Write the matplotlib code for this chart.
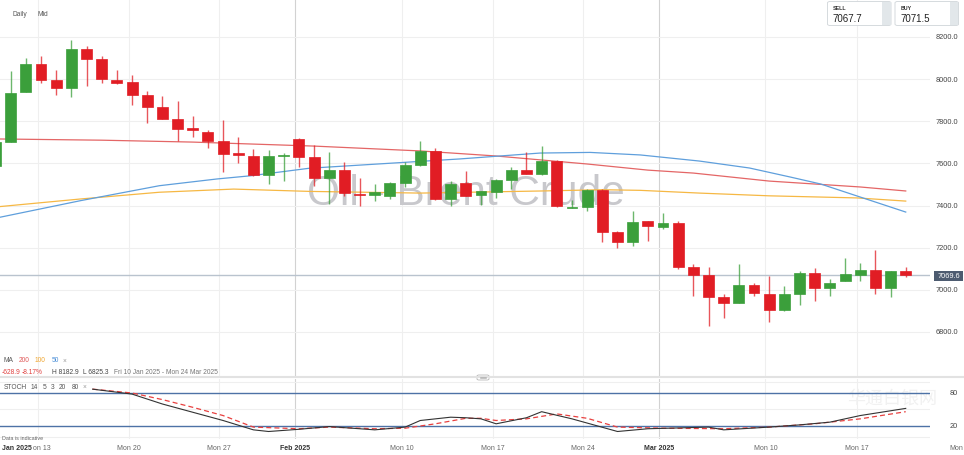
import matplotlib
matplotlib.use("Agg")
import matplotlib.pyplot as plt
from matplotlib.patches import Rectangle, FancyBboxPatch
from matplotlib.transforms import blended_transform_factory

plt.rcParams['font.family'] = ['Liberation Sans', 'Noto Sans CJK SC', 'DejaVu Sans']

# candle data (index -1 is the half-hidden one on the left edge)
idx = list(range(-1, 60))
opens = [7587, 7703, 7940, 8070, 7997, 7956, 8143, 8097, 7994, 7985, 7926, 7869, 7809, 7766, 7747, 7705,
         7649, 7636, 7545, 7637, 7716, 7629, 7529, 7570, 7455, 7450, 7444, 7507, 7592, 7657, 7431,
         7505, 7450, 7463, 7521, 7570, 7549, 7611, 7390, 7391, 7475, 7273, 7228, 7325, 7297, 7315,
         7107, 7071, 6964, 6936, 7024, 6980, 6905, 6980, 7078, 7008, 7043, 7070, 7095, 7010, 7091]
highs = [7716, 8040, 8099, 8111, 8044, 8187, 8158, 8108, 8042, 8019, 7942, 7921, 7897, 7826, 7758, 7806,
         7724, 7668, 7663, 7648, 7720, 7687, 7655, 7605, 7529, 7501, 7513, 7608, 7707, 7673, 7518,
         7565, 7470, 7525, 7584, 7652, 7684, 7615, 7426, 7480, 7478, 7280, 7374, 7327, 7363, 7328,
         7122, 7107, 6980, 7122, 7032, 7067, 7019, 7089, 7103, 7051, 7151, 7127, 7189, 7091, 7109]
lows = [7583, 7703, 7940, 7981, 7926, 7913, 7969, 7981, 7977, 7877, 7790, 7809, 7707, 7724, 7671, 7560,
        7600, 7541, 7501, 7516, 7584, 7494, 7407, 7447, 7399, 7423, 7431, 7486, 7589, 7427, 7396,
        7444, 7402, 7434, 7478, 7549, 7546, 7394, 7387, 7375, 7228, 7197, 7209, 7230, 7288, 7099,
        6972, 6827, 6867, 6936, 6972, 6846, 6901, 6928, 6948, 6972, 7043, 7040, 6980, 6967, 7062]
closes = [7701, 7934, 8070, 7996, 7956, 8143, 8095, 8000, 7981, 7926, 7869, 7809, 7763, 7760, 7705, 7646,
          7638, 7545, 7636, 7640, 7629, 7530, 7570, 7459, 7451, 7463, 7505, 7592, 7657, 7431, 7502,
          7444, 7467, 7521, 7570, 7549, 7611, 7396, 7392, 7475, 7273, 7228, 7323, 7304, 7315, 7107,
          7071, 6964, 6936, 7024, 6983, 6905, 6980, 7078, 7007, 7032, 7075, 7095, 7010, 7091, 7070]

# moving averages, read at some candle positions
ma200_x = [-1, 6, 12, 20, 27, 32, 38, 42, 45, 50, 56, 59]
ma200_y = [7716, 7710, 7701, 7682, 7659, 7635, 7597, 7568, 7554, 7516, 7488, 7469]
ma100_x = [-1, 4.6, 9.8, 14.7, 19.7, 27, 35, 39, 41.5, 45.4, 50, 55.8, 59]
ma100_y = [7393, 7431, 7463, 7478, 7467, 7459, 7469, 7475, 7472, 7459, 7446, 7436, 7421]
ma50_x = [-1, 4.6, 9.8, 13.6, 15.8, 19.7, 29.6, 34.9, 38.2, 41.5, 45.4, 48.7, 51.4, 53.4, 55.8, 59]
ma50_y = [7340, 7423, 7494, 7526, 7541, 7577, 7621, 7649, 7652, 7640, 7611, 7578, 7535, 7502, 7445, 7369]

# stochastic %K (black) and %D (red dashed)
k_x = [5.4, 8, 10, 12, 14, 16, 17, 19, 21, 24, 26, 27, 29, 30, 31, 32, 34, 35, 37, 40, 42, 46, 47, 50, 52, 54, 56, 59]
k_y = [87, 78, 60, 45, 30, 13, 10, 14, 19, 13, 18, 30, 36, 35, 33, 24, 35, 46, 33, 10, 15, 18, 13, 18, 22, 27, 39, 52]
d_x = [5.4, 8, 10, 12, 14, 16, 19, 21, 24, 26, 28, 30, 31, 32, 34, 36, 38, 40, 43, 47, 50, 53, 56, 59]
d_y = [87, 80, 68, 54, 39, 18, 15, 18, 15, 16, 24, 34, 34, 30, 33, 42, 34, 18, 16, 15, 18, 24, 33, 46]

price_ticks = [6800, 7000, 7200, 7400, 7600, 7800, 8000, 8200]
last_price = 7069.6
sell_price = "7067.7"
buy_price = "7071.5"

grid_pos = [1.8, 7.8, 13.75, 25.8, 31.8, 37.75, 49.75, 55.8]
week_pos = [7.8, 13.75, 25.8, 31.8, 37.75, 49.75, 55.8]
week_lab = ["Mon 20", "Mon 27", "Mon 10", "Mon 17", "Mon 24", "Mon 10", "Mon 17"]
month_pos = [18.75, 42.75]
month_lab = ["Feb 2025", "Mar 2025"]

RED = '#e11d24'
GREEN = '#3b9f3b'
W, H = 964, 456


def fx(x):
    return x / W


def fy(y):
    return 1 - y / H


fig = plt.figure(figsize=(W / 100, H / 100), dpi=100)
ax = fig.add_axes([0, fy(377), fx(930), 377 / H])
ax2 = fig.add_axes([0, fy(440), fx(930), 60 / H])

for a in (ax, ax2):
    a.set_xlim(-0.705, 60.6)
    for s in a.spines.values():
        s.set_visible(False)
    a.set_xticks([])
    a.set_yticks([])
    for p in grid_pos:
        a.axvline(p, color='#efefef', lw=0.8, zorder=0)
    for p in month_pos:
        a.axvline(p, color='#d2d2d2', lw=0.8, zorder=0)

ax.set_ylim(6591, 8380)
for p in price_ticks:
    ax.axhline(p, color='#efefef', lw=0.8, zorder=0)

tr = blended_transform_factory(fig.transFigure, ax.transData)
ax.text(fx(466), 7407, "Oil - Brent Crude", transform=tr, ha='center', va='baseline',
        fontsize=30.5, color='#c8c8cc', zorder=1)

# candles
for i, o, h, l, c in zip(idx, opens, highs, lows, closes):
    col = GREEN if c >= o else RED
    ax.vlines(i, l, h, color=col, lw=1, zorder=3, alpha=0.75)
    body = max(abs(c - o), 5)
    ax.bar(i, body, bottom=min(o, c), width=0.72, color=col, edgecolor=col, lw=0.5, zorder=4)

ax.plot(ma200_x, ma200_y, color='#e46666', lw=0.9, zorder=2)
ax.plot(ma100_x, ma100_y, color='#f6b844', lw=0.9, zorder=2)
ax.plot(ma50_x, ma50_y, color='#5f9fdc', lw=0.9, zorder=2)

ax.axhline(last_price, color='#b9c3ce', lw=1, zorder=2)

# price labels on the right
for p in price_ticks:
    ax.text(fx(958), p, "%.1f" % p, transform=tr, ha='right', va='center', fontsize=5.3, color='#444444', clip_on=False)
fig.patches.append(Rectangle((fx(934), fy(282)), fx(29), 10 / H, transform=fig.transFigure,
                             facecolor='#4d5b70', edgecolor='none'))
fig.text(fx(948.5), fy(276.5), "%.1f" % last_price, ha='center', va='center', fontsize=5.3, color='white')

# stochastic panel
ax2.set_ylim(-3.64, 105.45)
for v in (0, 50, 100):
    ax2.axhline(v, color='#efefef', lw=0.8, zorder=0)
ax2.axhline(80, color='#4d72a6', lw=1, zorder=1)
ax2.axhline(20, color='#4d72a6', lw=1, zorder=1)
ax2.plot(k_x, k_y, color='#333333', lw=0.8, zorder=3)
ax2.plot(d_x, d_y, color='#e8403f', lw=0.9, ls=(0, (4, 2.5)), zorder=2)
tr2 = blended_transform_factory(fig.transFigure, ax2.transData)
ax2.text(fx(958), 80, "80", transform=tr2, ha='right', va='center', fontsize=5.3, color='#444444', clip_on=False)
ax2.text(fx(958), 20, "20", transform=tr2, ha='right', va='center', fontsize=5.3, color='#444444', clip_on=False)
ax2.text(fx(847), 70, "华通白银网", transform=tr2, ha='left', va='center', fontsize=13, color='#f1f1f1',
         clip_on=False, zorder=0)

# date labels
trd = blended_transform_factory(ax2.transData, fig.transFigure)
for p, lab in zip(week_pos, week_lab):
    ax2.text(p, fy(449), lab, transform=trd, ha='center', va='center', fontsize=5, color='#666666', clip_on=False)
for p, lab in zip(month_pos, month_lab):
    ax2.text(p, fy(449), lab, transform=trd, ha='center', va='center', fontsize=5, color='#333333',
             fontweight='bold', clip_on=False)
fig.text(fx(2), fy(449), "Jan 2025", ha='left', va='center', fontsize=5, color='#333333', fontweight='bold')
fig.text(fx(33), fy(449), "on 13", ha='left', va='center', fontsize=5, color='#666666')
fig.text(fx(963.5), fy(449), "Mon", ha='right', va='center', fontsize=5, color='#666666')

# separator between the panels
fig.add_artist(plt.Line2D([0, 1], [fy(378), fy(378)], color='#e2e2e2', lw=1.5, transform=fig.transFigure))
fig.patches.append(FancyBboxPatch((fx(477), fy(381)), fx(12), 5 / H, boxstyle="round,pad=0,rounding_size=0.002",
                                  transform=fig.transFigure, facecolor='white', edgecolor='#aaaaaa', lw=0.5))
fig.add_artist(plt.Line2D([fx(480), fx(486)], [fy(377.5), fy(377.5)], color='#999999', lw=0.4, transform=fig.transFigure))
fig.add_artist(plt.Line2D([fx(480), fx(486)], [fy(379), fy(379)], color='#999999', lw=0.4, transform=fig.transFigure))

# legend texts
fs = 4.8
fig.text(fx(12.5), fy(15), "Daily", fontsize=fs, color='#555555', va='center')
fig.text(fx(37.5), fy(15), "Mid", fontsize=fs, color='#555555', va='center')

for x, t, col in [(4, "MA", '#555555'), (18.5, "200", '#e05a5a'), (35, "100", '#f0a630'),
                  (51.5, "50", '#4a8fd8'), (63, "×", '#999999')]:
    fig.text(fx(x), fy(361), t, fontsize=fs, color=col, va='center')
for x, t, col in [(1.5, "-628.9", '#e0403f'), (21.5, "-8.17%", '#e0403f'), (51.5, "H 8182.9", '#444444'),
                  (83, "L 6825.3", '#444444'), (114, "Fri 10 Jan 2025 - Mon 24 Mar 2025", '#777777')]:
    fig.text(fx(x), fy(372.5), t, fontsize=fs, color=col, va='center')
for x, t in [(4, "STOCH"), (30.5, "14"), (42.5, "5"), (50.5, "3"), (59, "20"), (71.5, "80"), (83, "×")]:
    fig.text(fx(x), fy(387.5), t, fontsize=fs, color='#555555' if t != "×" else '#999999', va='center')
fig.text(fx(1.5), fy(438.7), "Data is indicative", fontsize=3.9, color='#666666', va='center')

# sell / buy boxes
for x0, lab, val in [(827.5, "SELL", sell_price), (895, "BUY", buy_price)]:
    fig.patches.append(FancyBboxPatch((fx(x0), fy(26.5)), fx(63.5), 24 / H, boxstyle="round,pad=0,rounding_size=0.003",
                                      transform=fig.transFigure, facecolor='white', edgecolor='#cfd4d8', lw=0.6))
    fig.patches.append(Rectangle((fx(x0 + 54.5), fy(26)), fx(8.5), 23 / H, transform=fig.transFigure,
                                 facecolor='#e2e7ea', edgecolor='none'))
    fig.text(fx(x0 + 5.5), fy(9), lab, fontsize=3.8, color='#333333', fontweight='bold', va='center')
    fig.text(fx(x0 + 5), fy(19), val, fontsize=7, color='#222222', va='center')

fig.savefig("out.png", dpi=100)
